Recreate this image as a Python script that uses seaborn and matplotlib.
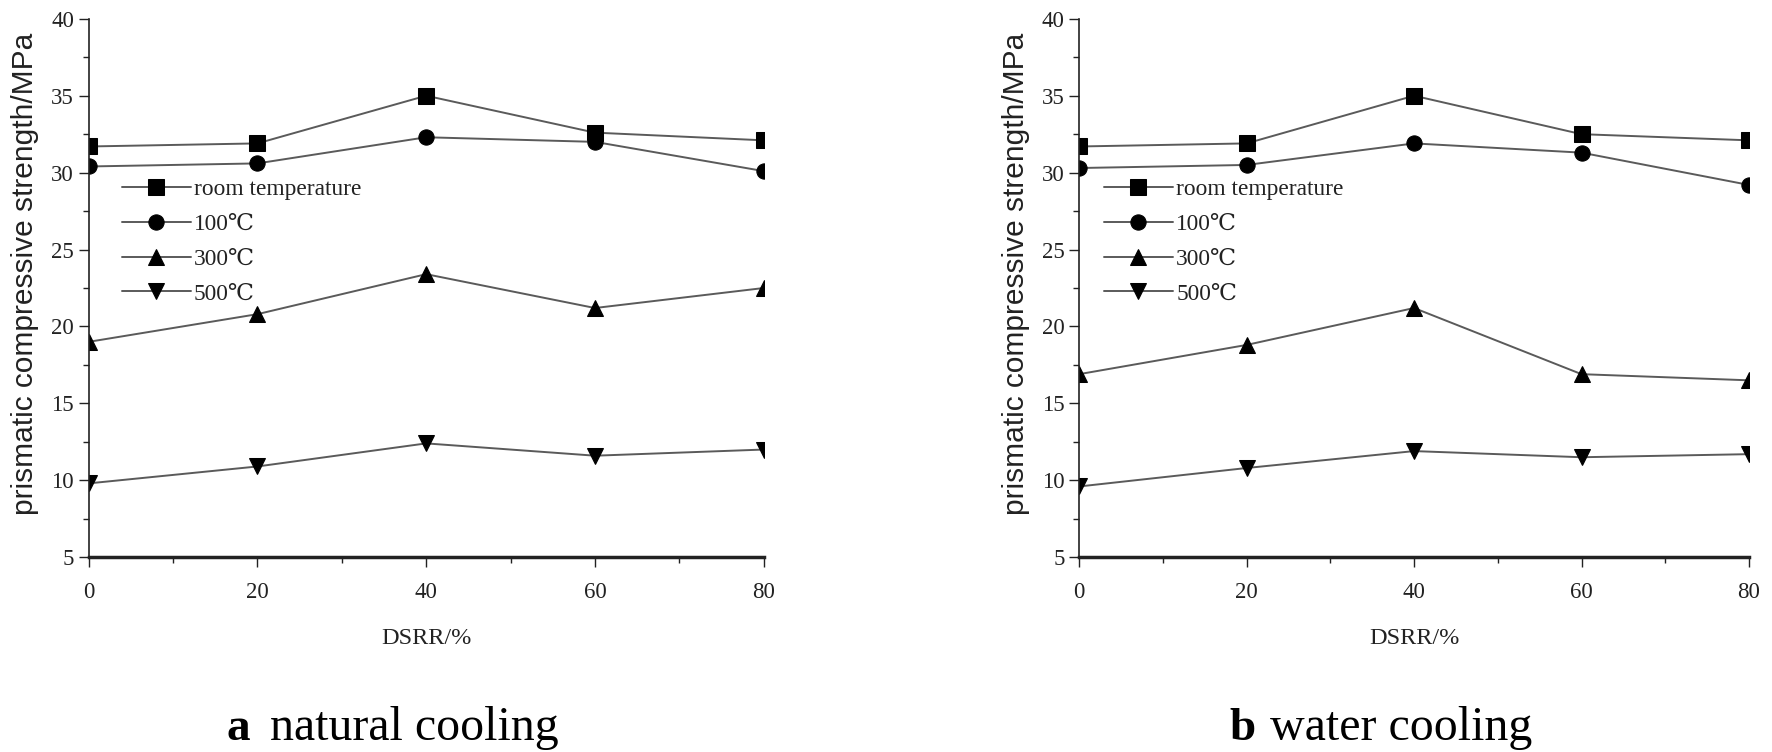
import numpy as np
import pandas as pd
import matplotlib
matplotlib.use("Agg")
import matplotlib.pyplot as plt
from matplotlib.ticker import MultipleLocator
import seaborn as sns

sns.set_style("ticks")
plt.rcParams['font.family'] = ['Liberation Serif', 'DejaVu Serif']

dsrr = [0, 20, 40, 60, 80]
series_labels = ["room temperature", "100\u2103", "300\u2103", "500\u2103"]
markers = ["s", "o", "^", "v"]

natural_room = [31.7, 31.9, 35.0, 32.6, 32.1]
natural_100 = [30.4, 30.6, 32.3, 32.0, 30.1]
natural_300 = [19.0, 20.8, 23.4, 21.2, 22.5]
natural_500 = [9.8, 10.9, 12.4, 11.6, 12.0]

water_room = [31.7, 31.9, 35.0, 32.5, 32.1]
water_100 = [30.3, 30.5, 31.9, 31.3, 29.2]
water_300 = [16.9, 18.8, 21.2, 16.9, 16.5]
water_500 = [9.6, 10.8, 11.9, 11.5, 11.7]

panels = [
    ("a", "natural cooling", [natural_room, natural_100, natural_300, natural_500]),
    ("b", "water cooling", [water_room, water_100, water_300, water_500]),
]

fig = plt.figure(figsize=(17.72, 7.52), dpi=100)
axes_rects = [
    [0.050, 0.259, 0.381, 0.716],
    [0.609, 0.259, 0.378, 0.716],
]
caption_x = [(0.128, 0.1525), (0.694, 0.7167)]
legend_x = [0.049, 0.037]

for (letter, caption, data), rect, (lx, cx), lgx in zip(panels, axes_rects, caption_x, legend_x):
    ax = fig.add_axes(rect)
    for label, mk, vals in zip(series_labels, markers, data):
        df = pd.DataFrame({"DSRR": dsrr, "strength": vals})
        sns.lineplot(data=df, x="DSRR", y="strength", ax=ax, color="#5a5a5a",
                     linewidth=1.4, marker=mk, markersize=11,
                     markerfacecolor="black", markeredgecolor="black",
                     label=label)
    ax.set_xlim(0, 80)
    ax.set_ylim(5, 40)
    ax.xaxis.set_major_locator(MultipleLocator(20))
    ax.xaxis.set_minor_locator(MultipleLocator(10))
    ax.yaxis.set_major_locator(MultipleLocator(5))
    ax.yaxis.set_minor_locator(MultipleLocator(2.5))
    ax.tick_params(which="major", direction="out", length=7, width=1.0,
                   labelsize=16.5, colors="#222222")
    ax.tick_params(which="minor", direction="out", length=4, width=1.0,
                   colors="#222222")
    ax.tick_params(axis="x", pad=11)
    for s in ["top", "right"]:
        ax.spines[s].set_visible(False)
    for s in ["left", "bottom"]:
        ax.spines[s].set_color("#222222")
        ax.spines[s].set_linewidth(1.2)
    ax.spines["bottom"].set_linewidth(2.5)
    ax.set_xlabel("DSRR/%", fontsize=17.5, labelpad=18, color="#222222")
    ax.set_ylabel("prismatic compressive strength/MPa", fontsize=21.5,
                  family=["Liberation Sans", "DejaVu Sans"], labelpad=5,
                  color="#222222")
    ax.yaxis.set_label_coords(-0.073, 0.526)
    ax.set_facecolor("white")
    leg = ax.legend(loc="upper left", bbox_to_anchor=(lgx, 0.703),
                    frameon=False, fontsize=16.8, handlelength=2.95,
                    handletextpad=0.15, labelspacing=0.58, borderaxespad=0,
                    borderpad=0)
    for t in leg.get_texts():
        t.set_color("#222222")
    fig.text(lx, 0.016, letter, fontsize=34, fontweight="bold",
             ha="left", va="baseline", color="black")
    fig.text(cx, 0.016, caption, fontsize=34.5,
             ha="left", va="baseline", color="black")

fig.savefig("out.png", dpi=100, facecolor="white")
